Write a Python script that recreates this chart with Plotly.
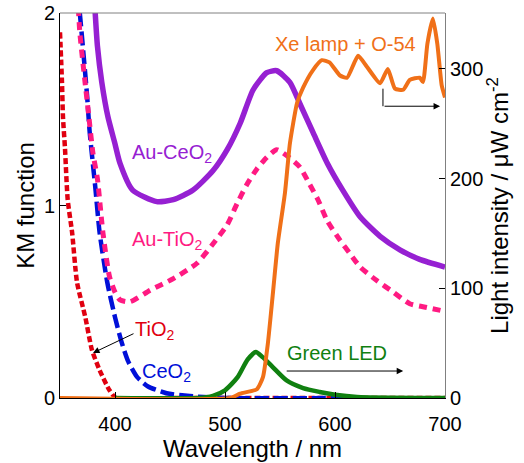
import plotly.graph_objects as go

# ---- data ----
wl_auceo2 = [381, 382, 384, 388, 393.6, 400, 404.5, 416, 438, 453, 471, 489, 502, 514, 525.5, 538, 547, 559, 568, 580, 593, 607, 623, 641, 659, 677, 700]
km_auceo2 = [2.1, 2.0, 1.83, 1.64, 1.46, 1.32, 1.22, 1.08, 1.02, 1.03, 1.08, 1.18, 1.29, 1.43, 1.60, 1.69, 1.70, 1.64, 1.53, 1.38, 1.22, 1.08, 0.94, 0.84, 0.77, 0.72, 0.68]

wl_autio2 = [366, 368, 372, 375.5, 380, 384, 389, 395, 400, 404.5, 413.6, 432, 453, 474.5, 489, 502, 511, 520, 529, 538, 547, 556, 568, 577, 584.5, 593, 604.5, 613.6, 623, 638, 653, 668, 683.6, 700]
km_autio2 = [2.1, 1.90, 1.68, 1.50, 1.27, 1.14, 0.86, 0.63, 0.55, 0.51, 0.50, 0.56, 0.62, 0.70, 0.80, 0.90, 1.01, 1.11, 1.19, 1.25, 1.29, 1.26, 1.20, 1.11, 1.03, 0.92, 0.82, 0.75, 0.68, 0.61, 0.55, 0.49, 0.47, 0.45]

wl_ceo2 = [366, 368, 371, 374.5, 377, 382, 386, 393, 400, 406, 412, 420, 430, 447, 468, 500, 620]
km_ceo2 = [2.1, 2.0, 1.81, 1.58, 1.38, 1.10, 0.86, 0.60, 0.42, 0.29, 0.19, 0.11, 0.06, 0.025, 0.01, 0.0, 0.0]

wl_tio2 = [350, 351.8, 352.7, 354.5, 357, 361, 365.5, 373, 379, 386, 395, 401, 450, 700]
km_tio2 = [1.90, 1.64, 1.46, 1.30, 1.03, 0.86, 0.60, 0.42, 0.25, 0.145, 0.04, 0.0, 0.0, 0.0]

wl_xe = [350, 505, 513.6, 529, 534.5, 539, 543.6, 548, 554.5, 559, 565.5, 571, 580, 588, 595, 604.5, 611, 621, 629, 641, 648, 654.5, 662, 668, 677, 680, 684, 689, 693, 697, 700]
int_xe = [0, 0, 4, 8, 19, 50, 96, 141, 187, 232, 269, 283, 299, 308, 306, 294, 292, 312, 302, 287, 300, 282, 281, 290, 292, 288, 323, 346, 323, 285, 274]

wl_led = [400, 475, 489, 500, 511.5, 520.5, 528, 534.5, 543.6, 556, 571, 586, 600, 620, 700]
int_led = [0, 0, 2, 7, 19, 35, 42, 37, 28, 16, 9, 5.5, 3, 1, 0]

x_ticks = [400, 500, 600, 700]
y_ticks = [0, 1, 2]
y2_ticks = [0, 100, 200, 300]

FONT = "Liberation Sans, Arial, sans-serif"
C_PURPLE = "#9620D2"
C_PINK = "#FF1A82"
C_BLUE = "#0010D8"
C_RED = "#E00010"
C_ORANGE = "#F07018"
C_GREEN = "#108010"

fig = go.Figure()
fig.add_trace(go.Scatter(x=wl_tio2, y=km_tio2, mode="lines", line=dict(color=C_RED, width=4.5, dash="6px,3px", shape="spline", smoothing=0.6)))
fig.add_trace(go.Scatter(x=wl_ceo2, y=km_ceo2, mode="lines", line=dict(color=C_BLUE, width=4.5, dash="14px,5px", shape="spline", smoothing=0.6)))
fig.add_trace(go.Scatter(x=wl_autio2, y=km_autio2, mode="lines", line=dict(color=C_PINK, width=5, dash="8px,6px", shape="spline", smoothing=0.6)))
fig.add_trace(go.Scatter(x=wl_auceo2, y=km_auceo2, mode="lines", line=dict(color=C_PURPLE, width=5.5, shape="spline", smoothing=0.6)))
fig.add_trace(go.Scatter(x=wl_led, y=int_led, yaxis="y2", mode="lines", line=dict(color=C_GREEN, width=4.5, shape="spline", smoothing=0.6)))
fig.add_trace(go.Scatter(x=wl_xe, y=int_xe, yaxis="y2", mode="lines", line=dict(color=C_ORANGE, width=4, shape="spline", smoothing=0.5)))

anns = [
    dict(x=413.6, y=1.27, xref="x", yref="y", text="Au-CeO<sub>2</sub>", font=dict(color=C_PURPLE, size=20), showarrow=False, xanchor="left"),
    dict(x=413.6, y=0.82, xref="x", yref="y", text="Au-TiO<sub>2</sub>", font=dict(color=C_PINK, size=20), showarrow=False, xanchor="left"),
    dict(x=416.4, y=0.35, xref="x", yref="y", text="TiO<sub>2</sub>", font=dict(color=C_RED, size=20), showarrow=False, xanchor="left"),
    dict(x=422.7, y=0.13, xref="x", yref="y", text="CeO<sub>2</sub>", font=dict(color=C_BLUE, size=20), showarrow=False, xanchor="left"),
    dict(x=380, y=0.234, xref="x", yref="y", text="", showarrow=True, arrowhead=2, arrowsize=1.3, arrowwidth=1, arrowcolor="black", ax=42, ay=-20),
    dict(x=554.5, y=41, xref="x", yref="y2", text="Green LED", font=dict(color=C_GREEN, size=20), showarrow=False, xanchor="left"),
    dict(x=662, y=24.6, xref="x", yref="y2", text="", showarrow=True, arrowhead=2, arrowsize=1.3, arrowwidth=1, arrowcolor="black", ax=-118, ay=0),
    dict(x=543.6, y=323, xref="x", yref="y2", text="Xe lamp + O-54", font=dict(color=C_ORANGE, size=20), showarrow=False, xanchor="left"),
    dict(x=695.5, y=266, xref="x", yref="y2", text="", showarrow=True, arrowhead=2, arrowsize=1.3, arrowwidth=1, arrowcolor="black", ax=-57, ay=0),
]

shapes = [
    dict(type="line", xref="x", yref="y2", x0=643.6, x1=643.6, y0=282, y1=266, line=dict(color="black", width=1)),
    dict(type="line", xref="paper", yref="paper", x0=0, x1=1, y0=1, y1=1, line=dict(color="#808080", width=1)),
]

fig.update_layout(
    width=524, height=463,
    margin=dict(l=60, r=79, t=13, b=65),
    paper_bgcolor="white", plot_bgcolor="white",
    showlegend=False,
    font=dict(family=FONT, size=20, color="black"),
    annotations=anns, shapes=shapes,
    xaxis=dict(range=[350, 700], tickvals=x_ticks, ticks="inside", ticklen=6, tickcolor="black",
               showline=True, linecolor="black", linewidth=1, showgrid=False, zeroline=False,
               automargin=False, title=dict(text="Wavelength / nm", standoff=6), ticklabelstandoff=8),
    yaxis=dict(range=[0, 2], tickvals=y_ticks, ticks="inside", ticklen=6, tickcolor="black",
               showline=True, linecolor="black", linewidth=1, showgrid=False, zeroline=False,
               automargin=False, title=dict(text="KM function", standoff=2)),
    yaxis2=dict(range=[0, 351], tickvals=y2_ticks, ticks="inside", ticklen=6, tickcolor="black",
                overlaying="y", side="right", showline=True, linecolor="#808080", linewidth=1,
                showgrid=False, zeroline=False, automargin=False,
                title=dict(text="Light intensity / μW cm<sup>-2</sup>", standoff=6)),
)

fig.write_html("out.html", config={"displayModeBar": False},
               post_script="document.body.style.margin='0';")
